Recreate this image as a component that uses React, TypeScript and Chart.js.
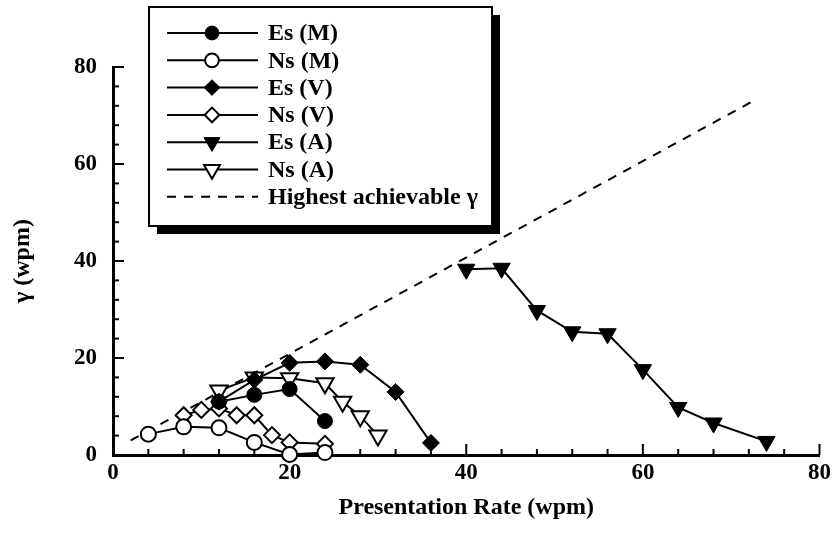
import React, { useEffect, useRef } from 'react';
import { Chart, registerables } from 'chart.js';
import { drawPoint } from 'chart.js/helpers';

Chart.register(...registerables);

// ---------- data ----------
const ES_M_X = [12, 16, 20, 24];
const ES_M_Y = [11, 12.4, 13.6, 7];

const NS_M_X = [4, 8, 12, 16, 20, 24];
const NS_M_Y = [4.3, 5.8, 5.6, 2.6, 0.1, 0.5];

const ES_V_X = [12, 16, 20, 24, 28, 32, 36];
const ES_V_Y = [11, 15.5, 19, 19.3, 18.6, 13, 2.5];

const NS_V_X = [8, 10, 12, 14, 16, 18, 20, 24];
const NS_V_Y = [8.2, 9.3, 9.6, 8.2, 8.2, 4.1, 2.6, 2.3];

const ES_A_X = [40, 44, 48, 52, 56, 60, 64, 68, 74];
const ES_A_Y = [38.3, 38.5, 29.8, 25.4, 25, 17.6, 9.8, 6.6, 2.8];

const NS_A_X = [12, 16, 20, 24, 26, 28, 30];
const NS_A_Y = [13.3, 16, 15.8, 14.8, 11, 8, 4];

const HIGHEST_X = [2, 72.5];
const HIGHEST_Y = [3, 73];

const AXIS_TICK_LABELS = [0, 20, 40, 60, 80];
const MINOR_TICK_STEP = 4;

const LEGEND_LABELS = ['Es (M)', 'Ns (M)', 'Es (V)', 'Ns (V)', 'Es (A)', 'Ns (A)', 'Highest achievable γ'];

const FONT = "'Liberation Serif', 'Times New Roman', serif";

const pts = (xs: number[], ys: number[]) => xs.map((x, i) => ({ x, y: ys[i] }));

const tickPlugin = {
  id: 'inwardTicks',
  beforeDatasetsDraw(chart: any) {
    const { ctx, scales } = chart;
    const xs = scales.x;
    const ys = scales.y;
    const bottom = chart.chartArea.bottom;
    const left = chart.chartArea.left;
    ctx.save();
    ctx.strokeStyle = '#000';
    ctx.lineWidth = 2;
    for (let v = xs.min; v <= xs.max + 1e-9; v += MINOR_TICK_STEP) {
      const major = AXIS_TICK_LABELS.includes(v);
      const px = xs.getPixelForValue(v);
      ctx.beginPath();
      ctx.moveTo(px, bottom);
      ctx.lineTo(px, bottom - (major ? 11 : 6));
      ctx.stroke();
    }
    for (let v = ys.min; v <= ys.max + 1e-9; v += MINOR_TICK_STEP) {
      const major = AXIS_TICK_LABELS.includes(v);
      const py = ys.getPixelForValue(v);
      ctx.beginPath();
      ctx.moveTo(left, py);
      ctx.lineTo(left + (major ? 11 : 6), py);
      ctx.stroke();
    }
    ctx.restore();
  },
};

const legendPlugin = {
  id: 'boxLegend',
  afterDraw(chart: any) {
    const ctx = chart.ctx;
    const L = 149, T = 7, R = 492, B = 226, S = 8;
    ctx.save();
    ctx.fillStyle = '#000';
    ctx.fillRect(L + S, T + S, R - L, B - T);
    ctx.fillStyle = '#fff';
    ctx.fillRect(L, T, R - L, B - T);
    ctx.lineWidth = 2;
    ctx.strokeStyle = '#000';
    ctx.strokeRect(L, T, R - L, B - T);

    const x0 = 167, x1 = 258, mx = 212, tx = 268;
    const y0 = 33, dy = 27.3;
    ctx.font = `bold 24px ${FONT}`;
    ctx.textBaseline = 'middle';
    ctx.textAlign = 'left';
    chart.data.datasets.forEach((ds: any, i: number) => {
      const y = y0 + i * dy;
      ctx.save();
      ctx.strokeStyle = '#000';
      ctx.lineWidth = 2;
      ctx.setLineDash(ds.borderDash || []);
      ctx.beginPath();
      ctx.moveTo(x0, y);
      ctx.lineTo(x1, y);
      ctx.stroke();
      ctx.restore();
      if (ds.pointRadius > 0) {
        ctx.save();
        ctx.fillStyle = ds.pointBackgroundColor;
        ctx.strokeStyle = '#000';
        ctx.lineWidth = ds.pointBorderWidth;
        drawPoint(ctx, {
          pointStyle: ds.pointStyle,
          rotation: ds.pointRotation || 0,
          radius: ds.pointRadius * 0.92,
          borderWidth: ds.pointBorderWidth,
        } as any, mx, y);
        ctx.restore();
      }
      ctx.fillStyle = '#000';
      ctx.fillText(LEGEND_LABELS[i], tx, y + 1);
    });
    ctx.restore();
  },
};

export default function App() {
  const ref = useRef<HTMLCanvasElement>(null);

  useEffect(() => {
    document.body.style.margin = '0';
    const base = {
      showLine: true,
      borderColor: '#000',
      borderWidth: 2,
      pointBorderColor: '#000',
      clip: false as any,
    };
    const chart = new Chart(ref.current!, {
      type: 'scatter',
      data: {
        datasets: [
          { ...base, label: LEGEND_LABELS[0], data: pts(ES_M_X, ES_M_Y), pointStyle: 'circle', pointRadius: 7.5, pointBackgroundColor: '#000', pointBorderWidth: 1 },
          { ...base, label: LEGEND_LABELS[1], data: pts(NS_M_X, NS_M_Y), pointStyle: 'circle', pointRadius: 7.5, pointBackgroundColor: '#fff', pointBorderWidth: 2 },
          { ...base, label: LEGEND_LABELS[2], data: pts(ES_V_X, ES_V_Y), pointStyle: 'rectRot', pointRadius: 8.5, pointBackgroundColor: '#000', pointBorderWidth: 1 },
          { ...base, label: LEGEND_LABELS[3], data: pts(NS_V_X, NS_V_Y), pointStyle: 'rectRot', pointRadius: 8, pointBackgroundColor: '#fff', pointBorderWidth: 2 },
          { ...base, label: LEGEND_LABELS[4], data: pts(ES_A_X, ES_A_Y), pointStyle: 'triangle', pointRotation: 180, pointRadius: 10, pointBackgroundColor: '#000', pointBorderWidth: 1 },
          { ...base, label: LEGEND_LABELS[5], data: pts(NS_A_X, NS_A_Y), pointStyle: 'triangle', pointRotation: 180, pointRadius: 10, pointBackgroundColor: '#fff', pointBorderWidth: 2 },
          { ...base, label: LEGEND_LABELS[6], data: pts(HIGHEST_X, HIGHEST_Y), borderDash: [9, 8], pointRadius: 0, pointBackgroundColor: '#000', pointBorderWidth: 0 },
        ] as any,
      },
      options: {
        animation: false,
        responsive: false,
        maintainAspectRatio: false,
        layout: { padding: { left: 0, right: 14, top: 67, bottom: 0 } },
        plugins: { legend: { display: false }, tooltip: { enabled: false } },
        scales: {
          x: {
            type: 'linear',
            min: 0,
            max: 80,
            grid: { display: false, drawTicks: false },
            border: { display: true, color: '#000', width: 3 },
            ticks: {
              stepSize: 20,
              padding: 4,
              color: '#000',
              maxRotation: 0,
              font: { family: FONT, size: 23, weight: 'bold' },
              callback: (v: any) => (AXIS_TICK_LABELS.includes(v) ? String(v) : ''),
            },
            title: {
              display: true,
              text: 'Presentation Rate (wpm)',
              color: '#000',
              font: { family: FONT, size: 24, weight: 'bold' },
              padding: { top: 0, bottom: 16 },
            },
            afterFit: (s: any) => { s.height = 83; },
          },
          y: {
            type: 'linear',
            min: 0,
            max: 80,
            grid: { display: false, drawTicks: false },
            border: { display: true, color: '#000', width: 3 },
            ticks: {
              stepSize: 20,
              padding: 16,
              color: '#000',
              font: { family: FONT, size: 23, weight: 'bold' },
              callback: (v: any) => (AXIS_TICK_LABELS.includes(v) ? String(v) : ''),
            },
            title: {
              display: true,
              text: 'γ (wpm)',
              color: '#000',
              font: { family: FONT, size: 24, weight: 'bold' },
              padding: { top: 8, bottom: 0 },
            },
            afterFit: (s: any) => { s.width = 113; },
          },
        },
      } as any,
      plugins: [tickPlugin, legendPlugin],
    });
    return () => chart.destroy();
  }, []);

  return (
    <div style={{ width: 835, height: 538, background: '#fff' }}>
      <canvas ref={ref} width={835} height={538} />
    </div>
  );
}
